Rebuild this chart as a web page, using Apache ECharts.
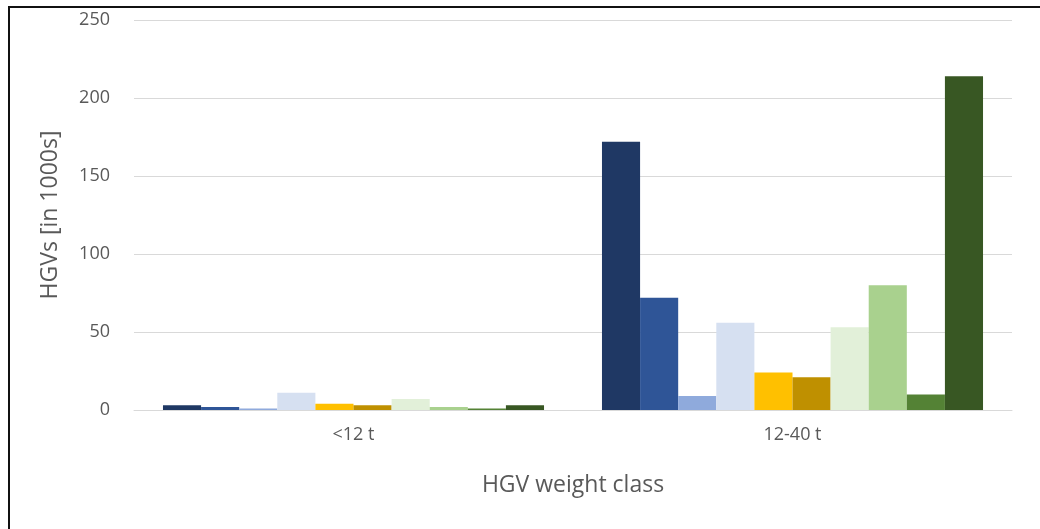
<!DOCTYPE html>
<html>
<head>
<meta charset="utf-8">
<script src="https://cdn.jsdelivr.net/npm/echarts@6/dist/echarts.min.js"></script>
<style>
  html, body { margin: 0; padding: 0; background: #fff; overflow: hidden; }
  .frame {
    position: absolute;
    left: 8px;
    top: 6px;
    width: 1060px;
    height: 560px;
    border-left: 2px solid #111;
    border-top: 2px solid #111;
  }
  #chart { position: absolute; left: 0; top: 0; width: 1040px; height: 529px; }
</style>
</head>
<body>
<div class="frame"></div>
<div id="chart"></div>
<script>
  // weight classes on the x axis
  let categories = ['<12 t', '12-40 t']
  // one entry per bar series (no legend in the original)
  let seriesNames = ['S1', 'S2', 'S3', 'S4', 'S5', 'S6', 'S7', 'S8', 'S9', 'S10']
  let colors = ['#1f3864', '#2f5597', '#8faadc', '#d6e0f1', '#ffc000', '#bf9000', '#e2f0d9', '#a9d18e', '#548235', '#385723']
  // values in 1000s, [<12 t, 12-40 t]
  let values = [
    [3, 172],
    [2, 72],
    [1, 9],
    [11, 56],
    [4, 24],
    [3, 21],
    [7, 53],
    [2, 80],
    [1, 10],
    [3, 214]
  ]
  let yTicks = [0, 50, 100, 150, 200, 250]

  let myChart = echarts.init(document.getElementById('chart'))
  let series = []
  seriesNames.forEach((name, index) => {
    series.push({
      name: name,
      type: 'bar',
      barGap: '0%',
      barCategoryGap: '13.2%',
      itemStyle: { color: colors[index] },
      data: values[index]
    })
  })

  let labelColor = '#595959'
  let font = '"Open Sans", Lato, sans-serif'
  let option = {
    animation: false,
    grid: { left: 134, right: 28, top: 20, bottom: 119 },
    xAxis: {
      type: 'category',
      data: categories,
      name: 'HGV weight class',
      nameLocation: 'middle',
      nameGap: 64,
      nameTextStyle: { color: labelColor, fontSize: 23, fontFamily: font },
      axisLine: { lineStyle: { color: '#d9d9d9', width: 1 } },
      axisTick: { show: false },
      axisLabel: { color: labelColor, fontSize: 18, fontFamily: font, margin: 16 }
    },
    yAxis: {
      type: 'value',
      min: yTicks[0],
      max: yTicks[yTicks.length - 1],
      interval: 50,
      name: 'HGVs [in 1000s]',
      nameLocation: 'middle',
      nameGap: 72,
      nameTextStyle: { color: labelColor, fontSize: 23, fontFamily: font },
      axisLine: { show: false },
      axisTick: { show: false },
      axisLabel: { color: labelColor, fontSize: 18, fontFamily: font, margin: 24 },
      splitLine: { lineStyle: { color: '#d9d9d9', width: 1 } }
    },
    series: series
  }
  myChart.setOption(option)
</script>
</body>
</html>
